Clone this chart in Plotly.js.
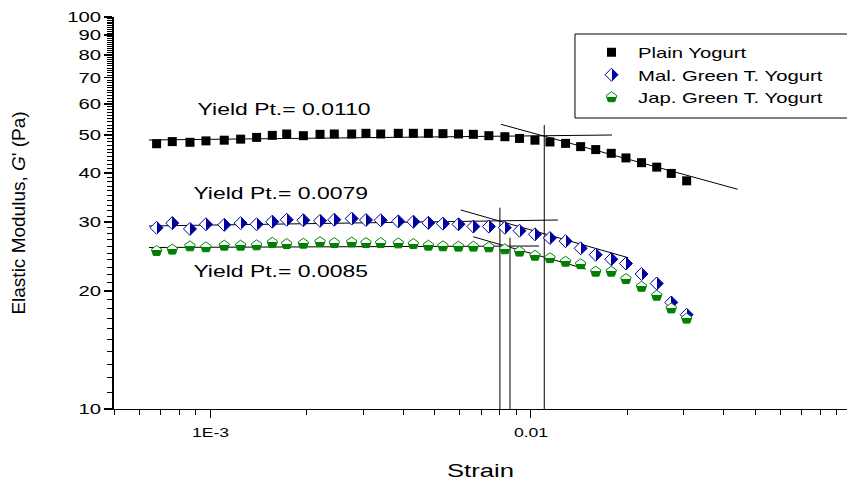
<!DOCTYPE html>
<html>
<head>
<meta charset="utf-8">
<script src="https://cdn.plot.ly/plotly-3.0.1.min.js"></script>
<style>
  html, body { margin: 0; padding: 0; background: white; }
  #chart { width: 847px; height: 482px; }
</style>
</head>
<body>
<div id="chart"></div>
<script>
// ---------- data ----------
const strain = [6.79e-4, 7.60e-4, 8.63e-4, 9.68e-4, 1.104e-3, 1.242e-3, 1.393e-3, 1.559e-3, 1.729e-3, 1.949e-3,
  2.197e-3, 2.434e-3, 2.758e-3, 3.056e-3, 3.397e-3, 3.855e-3, 4.295e-3, 4.785e-3, 5.313e-3, 5.94e-3,
  6.61e-3, 7.39e-3, 8.29e-3, 9.21e-3, 1.029e-2, 1.146e-2, 1.282e-2, 1.429e-2, 1.592e-2, 1.78e-2,
  1.978e-2, 2.213e-2, 2.468e-2, 2.74e-2, 3.06e-2];
const plainG = [47.5, 48.1, 47.9, 48.3, 48.5, 48.8, 49.3, 49.9, 50.3, 49.8,
  50.2, 50.3, 50.3, 50.5, 50.3, 50.5, 50.5, 50.5, 50.4, 50.3,
  50.2, 49.8, 49.5, 49.0, 48.5, 48.0, 47.6, 46.7, 45.9, 44.9,
  43.7, 42.5, 41.4, 39.9, 38.2];
const malG = [29.0, 29.8, 28.8, 29.6, 29.5, 29.8, 29.6, 30.05, 30.4, 30.3,
  30.2, 30.4, 30.6, 30.35, 30.3, 30.1, 30.05, 29.85, 29.7, 29.6,
  29.2, 29.2, 29.0, 28.5, 27.9, 27.3, 26.8, 25.7, 24.75, 24.1,
  23.5, 22.1, 20.9, 18.7, 17.4];
const japG = [25.3, 25.5, 26.0, 25.85, 26.1, 26.1, 26.15, 26.55, 26.35, 26.4,
  26.65, 26.5, 26.6, 26.5, 26.5, 26.45, 26.35, 26.1, 26.0, 25.95,
  25.95, 25.85, 25.55, 25.2, 24.6, 24.25, 23.75, 23.4, 22.4, 22.4,
  21.45, 20.5, 19.45, 18.05, 17.0];
const seriesNames = ['Plain Yogurt', 'Mal. Green T. Yogurt', 'Jap. Green T. Yogurt'];

// tangent (fit) lines
const plainFlatX = [6.43e-4, 0.0179],  plainFlatY = [48.56, 50.0];
const plainSlopeX = [8.06e-3, 0.04416], plainSlopeY = [53.24, 36.35];
const malFlatX = [6.43e-4, 0.01214],   malFlatY = [29.3, 30.35];
const malSlopeX = [6.035e-3, 0.02011], malSlopeY = [32.19, 24.32];
const japFlatX = [6.43e-4, 0.01059],   japFlatY = [25.82, 26.05];
const japSlopeX = [6.607e-3, 0.01482], japSlopeY = [27.5, 22.75];
// yield point vertical markers
const yieldX = [0.0110, 0.0080, 0.0086];
const yieldTop = [53.0, 32.63, 27.35];
const yieldBottom = 10;
const yieldLabels = ['Yield Pt.= 0.0110', 'Yield Pt.= 0.0079', 'Yield Pt.= 0.0085'];

// ticks
const xTickVals = [0.001, 0.01];
const xTickText = ['1E-3', '0.01'];
const yTickVals = [10, 20, 30, 40, 50, 60, 70, 80, 90, 100];
const yTickText = ['10', '20', '30', '40', '50', '60', '70', '80', '90', '100'];
const xMinor = [];
[1e-4, 1e-3, 1e-2].forEach(d => { for (let m = 2; m <= 9; m++) if (d * m >= 5e-4) xMinor.push(d * m); });
const yMinor = [];
for (let v = 11; v < 100; v++) if (v % 10 !== 0) yMinor.push(v);

// ---------- styling ----------
const FONT = "Arial, 'Liberation Sans', sans-serif";
const BLUE = '#0000a0', GREEN = '#008000';
const lineStyle = {color: 'black', width: 1};

function fitLine(x, y) {
  return {x: x, y: y, mode: 'lines', line: lineStyle, showlegend: false, hoverinfo: 'skip'};
}

const traces = [
  fitLine(plainFlatX, plainFlatY), fitLine(plainSlopeX, plainSlopeY),
  fitLine(malFlatX, malFlatY), fitLine(malSlopeX, malSlopeY),
  fitLine(japFlatX, japFlatY), fitLine(japSlopeX, japSlopeY)
];
yieldX.forEach((xv, i) => traces.push(fitLine([xv, xv], [yieldBottom, yieldTop[i]])));

traces.push({
  x: strain, y: plainG, name: seriesNames[0], mode: 'markers',
  marker: {symbol: 'square', size: 9, color: 'black', line: {width: 0}}
});
traces.push({
  x: strain, y: malG, name: seriesNames[1], mode: 'markers',
  marker: {symbol: 'diamond', size: 10, color: 'white',
           gradient: {type: 'horizontal', color: BLUE}, line: {color: BLUE, width: 1}}
});
traces.push({
  x: strain, y: japG, name: seriesNames[2], mode: 'markers',
  marker: {symbol: 'pentagon', size: 11, color: 'white',
           gradient: {type: 'vertical', color: GREEN}, line: {color: GREEN, width: 1}}
});

const annPos = [[0.2319, 0.7628], [0.2278, 0.5485], [0.2278, 0.3495]];
const annotations = yieldLabels.map((t, i) => ({
  text: t, xref: 'paper', yref: 'paper', x: annPos[i][0], y: annPos[i][1],
  xanchor: 'center', yanchor: 'middle', showarrow: false,
  font: {family: FONT, size: 17, color: 'black'}
}));

const layout = {
  width: 847, height: 482,
  margin: {l: 114, r: 0, t: 17, b: 73, pad: 0},
  paper_bgcolor: 'white', plot_bgcolor: 'white',
  font: {family: FONT, color: 'black'},
  showlegend: true,
  legend: {x: 0.6426, y: 0.9515, xanchor: 'left', yanchor: 'top', itemwidth: 43,
           bgcolor: 'rgba(0,0,0,0)', borderwidth: 0, font: {family: FONT, size: 15, color: 'black'},
           tracegroupgap: 0},
  xaxis: {
    type: 'log', range: [Math.log10(5e-4), -1.014], autorange: false,
    showline: true, linecolor: 'black', linewidth: 1, mirror: false,
    showgrid: false, zeroline: false,
    ticks: 'outside', ticklen: 8, tickwidth: 1, tickcolor: 'black',
    tickmode: 'array', tickvals: xTickVals, ticktext: xTickText, ticklabelstandoff: 3,
    tickfont: {family: FONT, size: 13, color: 'black'},
    minor: {tickmode: 'array', tickvals: xMinor, ticks: 'outside', ticklen: 5, tickwidth: 1, tickcolor: 'black', showgrid: false},
    title: {text: 'Strain', font: {family: FONT, size: 19, color: 'black'}, standoff: 25}
  },
  yaxis: {
    type: 'log', range: [1, 2], autorange: false,
    showline: true, linecolor: 'black', linewidth: 2, mirror: false,
    showgrid: false, zeroline: false,
    ticks: 'outside', ticklen: 8, tickwidth: 1.5, tickcolor: 'black',
    tickmode: 'array', tickvals: yTickVals, ticktext: yTickText,
    tickfont: {family: FONT, size: 15, color: 'black'},
    minor: {tickmode: 'array', tickvals: yMinor, ticks: 'outside', ticklen: 5, tickwidth: 1, tickcolor: 'black', showgrid: false},
    title: {text: "Elastic Modulus, <i>G</i>' (Pa)", font: {family: FONT, size: 19, color: 'black'}, standoff: 45}
  },
  annotations: annotations,
  shapes: [{type: 'rect', xref: 'paper', yref: 'paper', x0: 0.6289, x1: 1.01, y0: 0.7423, y1: 0.9566,
            line: {color: 'black', width: 1}, fillcolor: 'rgba(0,0,0,0)', layer: 'below'}]
};

Plotly.newPlot('chart', traces, layout, {displayModeBar: false, staticPlot: true}).then(gd => {
  // horizontally widened lettering, as in the reference
  const k = 1.35;
  gd.querySelectorAll('svg text').forEach(t => {
    if (t.closest('.g-ytitle')) return;
    const len = t.getComputedTextLength();
    if (len > 0) {
      t.setAttribute('textLength', (len * k).toFixed(1));
      t.setAttribute('lengthAdjust', 'spacingAndGlyphs');
    }
  });
  // let the widened legend labels show in full
  gd.querySelectorAll('.legend [clip-path], .legend[clip-path]').forEach(e => e.removeAttribute('clip-path'));
  // half-filled markers: sharp split instead of a smooth gradient
  gd.querySelectorAll('linearGradient stop').forEach(s => s.setAttribute('offset', '50%'));
});
</script>
</body>
</html>
